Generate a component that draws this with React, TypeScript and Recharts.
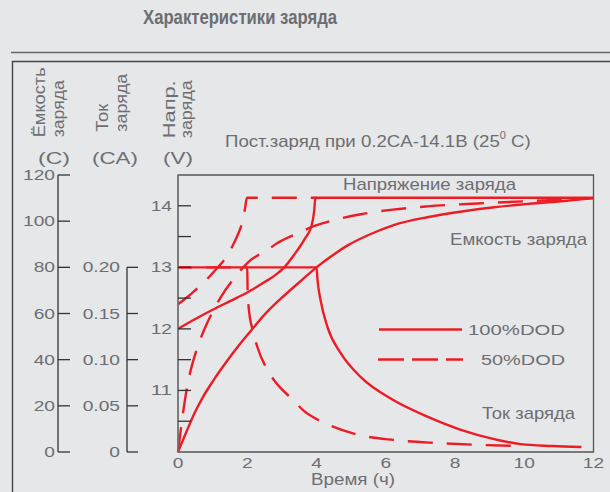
import React from 'react';
import { LineChart, Line, XAxis, YAxis, ReferenceArea, Legend } from 'recharts';

const RED = '#ed1c24';
const TXT = '#6d6e71';
const AX = '#333333';
const FONT = '"Liberation Sans", Arial, sans-serif';

// ---- data (hours, value) ----
const hourTicks = [0, 2, 4, 6, 8, 10, 12];
const voltageTicks = [10.5, 11, 11.5, 12, 12.5, 13, 13.5, 14];
const capacityTicks = [0, 20, 40, 60, 80, 100, 120];
const currentTicks = [0, 0.05, 0.1, 0.15, 0.2];

const voltage100: [number, number][] = [
  [0, 12.0], [0.5, 12.16], [1, 12.31], [1.5, 12.45], [2, 12.59], [2.5, 12.76], [2.8, 12.87],
  [3.07, 13.0], [3.35, 13.2], [3.67, 13.47], [3.86, 13.68], [3.93, 13.9], [3.97, 14.13],
  [6, 14.13], [9, 14.13], [12, 14.13],
];
const voltage50: [number, number][] = [
  [0, 12.4], [0.3, 12.53], [0.58, 12.67], [0.84, 12.81], [1.1, 12.97], [1.36, 13.14],
  [1.56, 13.33], [1.72, 13.52], [1.85, 13.72], [1.94, 13.97], [1.99, 14.13], [3, 14.13], [4, 14.13],
];
const capacity100: [number, number][] = [
  [0, 0], [0.25, 9], [0.5, 17.5], [0.72, 23.8], [1, 30.5], [1.42, 39.5], [1.8, 47], [2.17, 53.7],
  [2.5, 59.5], [2.96, 66.3], [3.5, 73.5], [4, 80], [4.5, 85.6], [4.9, 89.5], [5.5, 94], [6.23, 98.3],
  [7.2, 101.7], [8.2, 104.2], [9.13, 106], [10, 107.3], [11.07, 108.6], [12, 110],
];
const capacity50: [number, number][] = [
  [0, 0], [0.1, 12], [0.2, 22.5], [0.3, 31], [0.45, 40], [0.6, 47], [0.8, 54.5], [1, 60.7],
  [1.22, 66.7], [1.65, 75.8], [2.03, 82.3], [2.58, 87.5], [2.87, 90.5], [3.54, 95.3], [3.83, 97.3],
  [4.4, 100], [5.28, 103], [6.2, 105], [7.2, 106.4], [9.1, 108], [11.07, 109.3], [12, 110],
];
const current100: [number, number][] = [
  [0, 0.2], [2, 0.2], [4, 0.2], [4.03, 0.186], [4.12, 0.164], [4.32, 0.135], [4.7, 0.107],
  [5.28, 0.081], [6.23, 0.056], [7.22, 0.038], [8.17, 0.024], [9.13, 0.014], [9.9, 0.0085],
  [10.8, 0.0065], [11.65, 0.0054],
];
const current50: [number, number][] = [
  [0, 0.2], [1, 0.2], [2, 0.2], [2.01, 0.175], [2.04, 0.157], [2.17, 0.13], [2.29, 0.114],
  [2.58, 0.089], [2.81, 0.076], [3.33, 0.056], [3.62, 0.045], [4.26, 0.031], [5.28, 0.018],
  [6.23, 0.013], [7.5, 0.0097], [8.75, 0.0076], [9.9, 0.0065],
];

const legendItems = ['100%DOD', '50%DOD'];

const pts = (arr: [number, number][]) => arr.map(([x, y]) => ({ x, y }));

// tick labels are drawn in a horizontally widened face
const FS = 14;
const WIDEN = 1.37;
const labelWidth = (s: string) =>
  s.split('').reduce((w, ch) => w + (ch === '.' ? 0.278 : 0.556), 0) * FS * WIDEN;

const TickLabel = ({ x, y, text, anchor }: any) => (
  <text
    x={x} y={y} textAnchor={anchor} dominantBaseline="central" fontSize={FS}
    fill={TXT} fontFamily={FONT} textLength={labelWidth(text)} lengthAdjust="spacingAndGlyphs"
  >
    {text}
  </text>
);

const CapTick = (p: any) => (
  <g>
    <line x1={p.x} x2={p.x + 12} y1={p.y} y2={p.y} stroke={AX} strokeWidth={1.3} />
    <TickLabel x={p.x - 3} y={p.y} anchor="end" text={String(p.payload.value)} />
  </g>
);
const CurTick = (p: any) => (
  <g>
    <line x1={p.x} x2={p.x + 11} y1={p.y} y2={p.y} stroke={AX} strokeWidth={1.3} />
    <TickLabel x={p.x - 7} y={p.y} anchor="end"
      text={p.payload.value === 0 ? '0' : p.payload.value.toFixed(2)} />
  </g>
);
const VoltTick = (p: any) => (
  <g>
    <line x1={p.x} x2={p.x + 13} y1={p.y} y2={p.y} stroke={AX} strokeWidth={1.3} />
    {Number.isInteger(p.payload.value) && (
      <TickLabel x={p.x - 6} y={p.y} anchor="end" text={String(p.payload.value)} />
    )}
  </g>
);
const HourTick = (p: any) => (
  <TickLabel x={p.x} y={p.y + 11} anchor="middle" text={String(p.payload.value)} />
);

const LegendContent = () => (
  <svg width={210} height={60} style={{ display: 'block' }}>
    <line x1={9} x2={92} y1={14.5} y2={14.5} stroke={RED} strokeWidth={2.4} />
    <text x={98} y={20} fontSize={14} fill={TXT} fontFamily={FONT} textLength={97} lengthAdjust="spacingAndGlyphs">
      {legendItems[0]}
    </text>
    <line x1={8} x2={93} y1={44.5} y2={44.5} stroke={RED} strokeWidth={2.4} strokeDasharray="26 8" />
    <text x={111} y={50} fontSize={14} fill={TXT} fontFamily={FONT} textLength={84} lengthAdjust="spacingAndGlyphs">
      {legendItems[1]}
    </text>
  </svg>
);

const lbl = { fill: TXT, fontFamily: FONT };

export default function App() {
  const dash = '25 14';
  return (
    <div
      style={{
        position: 'absolute', left: 0, top: 0, width: 610, height: 492,
        background: '#e6e7e9', overflow: 'hidden', fontFamily: FONT,
      }}
    >
      <svg width={610} height={492} style={{ position: 'absolute', left: 0, top: 0 }}>
        <text x={143} y={24} fontSize={21} fontWeight="bold" textLength={194} lengthAdjust="spacingAndGlyphs" {...lbl}>
          Характеристики заряда
        </text>
        <line x1={11} x2={610} y1={52.5} y2={52.5} stroke="#666" strokeWidth={1.6} />
        <path d="M12.5 492 V61.5 H610" stroke="#444" strokeWidth={1.4} fill="none" />

        <text transform="translate(45,137.3) rotate(-90)" fontSize={16} textLength={70} lengthAdjust="spacingAndGlyphs" {...lbl}>Ёмкость</text>
        <text transform="translate(63.5,137.3) rotate(-90)" fontSize={16} textLength={57} lengthAdjust="spacingAndGlyphs" {...lbl}>заряда</text>
        <text transform="translate(108.3,131.7) rotate(-90)" fontSize={16} textLength={28} lengthAdjust="spacingAndGlyphs" {...lbl}>Ток</text>
        <text transform="translate(126.6,131.7) rotate(-90)" fontSize={16} textLength={58} lengthAdjust="spacingAndGlyphs" {...lbl}>заряда</text>
        <text transform="translate(175,138.3) rotate(-90)" fontSize={16} textLength={58} lengthAdjust="spacingAndGlyphs" {...lbl}>Напр.</text>
        <text transform="translate(191.6,138.3) rotate(-90)" fontSize={16} textLength={58} lengthAdjust="spacingAndGlyphs" {...lbl}>заряда</text>

        <text x={38} y={163.5} fontSize={17} textLength={32} lengthAdjust="spacingAndGlyphs" {...lbl}>(C)</text>
        <text x={92} y={163.5} fontSize={17} textLength={46} lengthAdjust="spacingAndGlyphs" {...lbl}>(CA)</text>
        <text x={163} y={163.5} fontSize={17} textLength={30} lengthAdjust="spacingAndGlyphs" {...lbl}>(V)</text>

        <text transform="translate(225,147) scale(1.097,1)" x={0} y={0} fontSize={17} {...lbl}>
          Пост.заряд при 0.2CA-14.1В (25<tspan fontSize={10} dy={-8}>0</tspan>
          <tspan dy={8}> C)</tspan>
        </text>

        <text x={343} y={190} fontSize={17} textLength={173} lengthAdjust="spacingAndGlyphs" {...lbl}>Напряжение заряда</text>
        <text x={450} y={245} fontSize={17} textLength={137} lengthAdjust="spacingAndGlyphs" {...lbl}>Емкость заряда</text>
        <text x={482} y={419} fontSize={17} textLength={93} lengthAdjust="spacingAndGlyphs" {...lbl}>Ток заряда</text>
        <text x={311} y={485} fontSize={17} textLength={84} lengthAdjust="spacingAndGlyphs" {...lbl}>Время (ч)</text>
      </svg>

      <div style={{ position: 'absolute', left: 0, top: 0 }}>
        <LineChart width={610} height={492} margin={{ top: 175, right: 16.5, bottom: 10, left: 8 }}>
          <XAxis
            dataKey="x" type="number" domain={[0, 12]} ticks={hourTicks} interval={0}
            axisLine={false} tickLine={false} tickSize={0} tickMargin={0} height={30}
            tick={HourTick}
          />
          <YAxis
            yAxisId="c" type="number" domain={[0, 120]} ticks={capacityTicks} interval={0}
            width={50} tickLine={false} tickSize={0} tickMargin={0}
            axisLine={{ stroke: AX, strokeWidth: 1.3 }} tick={CapTick}
          />
          <YAxis
            yAxisId="b" type="number" domain={[0, 0.3]} ticks={currentTicks} interval={0}
            width={69} tickLine={false} tickSize={0} tickMargin={0}
            axisLine={{ stroke: AX, strokeWidth: 1.3, strokeDasharray: '0 92.3 186 0' }} tick={CurTick}
          />
          <YAxis
            yAxisId="a" type="number" domain={[10, 14.5]} ticks={voltageTicks} interval={0}
            width={51} tickLine={false} tickSize={0} tickMargin={0}
            axisLine={{ stroke: '#777', strokeWidth: 1.3 }} tick={VoltTick}
          />
          <ReferenceArea yAxisId="a" x1={0} x2={12} y1={10} y2={14.5} fill="none" stroke="#555" strokeWidth={1.3} />

          <Line yAxisId="a" data={pts(voltage100)} dataKey="y" type="monotone" stroke={RED} strokeWidth={2.4} dot={false} activeDot={false} isAnimationActive={false} />
          <Line yAxisId="a" data={pts(voltage50)} dataKey="y" type="monotone" stroke={RED} strokeWidth={2.4} strokeDasharray={dash} dot={false} activeDot={false} isAnimationActive={false} />
          <Line yAxisId="c" data={pts(capacity100)} dataKey="y" type="monotone" stroke={RED} strokeWidth={2.4} dot={false} activeDot={false} isAnimationActive={false} />
          <Line yAxisId="c" data={pts(capacity50)} dataKey="y" type="monotone" stroke={RED} strokeWidth={2.4} strokeDasharray={dash} dot={false} activeDot={false} isAnimationActive={false} />
          <Line yAxisId="b" data={pts(current100)} dataKey="y" type="monotone" stroke={RED} strokeWidth={2.4} dot={false} activeDot={false} isAnimationActive={false} />
          <Line yAxisId="b" data={pts(current50)} dataKey="y" type="monotone" stroke={RED} strokeWidth={2.4} strokeDasharray={dash} strokeDashoffset={11} dot={false} activeDot={false} isAnimationActive={false} />

          <Legend
            layout="vertical" align="center" verticalAlign="middle"
            content={LegendContent}
            wrapperStyle={{ position: 'absolute', left: 370, top: 315, width: 210, height: 60 }}
          />
        </LineChart>
      </div>
    </div>
  );
}
